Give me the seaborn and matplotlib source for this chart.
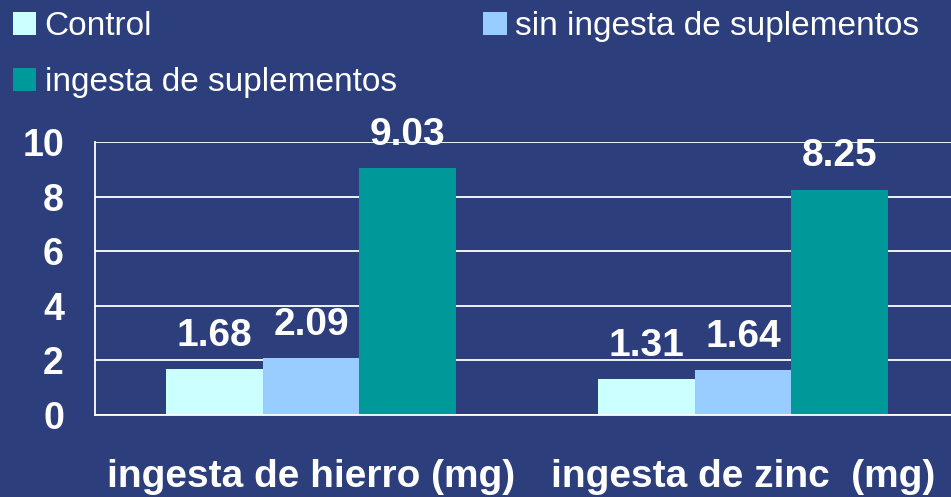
import numpy as np
import pandas as pd
import matplotlib.pyplot as plt
import seaborn as sns

# Datos
categorias = ["ingesta de hierro (mg)", "ingesta de zinc  (mg)"]
grupos = ["Control", "sin ingesta de suplementos", "ingesta de suplementos"]
control = [1.68, 1.31]
sin_suplementos = [2.09, 1.64]
con_suplementos = [9.03, 8.25]
colores = ["#CCFFFF", "#99CCFF", "#009999"]
yticks = [0, 2, 4, 6, 8, 10]

df = pd.DataFrame({
    "categoria": categorias * 3,
    "grupo": np.repeat(grupos, 2),
    "valor": control + sin_suplementos + con_suplementos,
})

fondo = "#2C3E7B"
sns.set_style("white")
plt.rcParams["font.family"] = ["Liberation Sans", "DejaVu Sans"]

fig = plt.figure(figsize=(9.51, 4.97), dpi=100, facecolor=fondo)
ax = fig.add_axes([95 / 951, 82 / 497, 864 / 951, 273 / 497])
ax.set_facecolor("none")

sns.barplot(
    data=df, x="categoria", y="valor", hue="grupo", hue_order=grupos,
    palette=colores, width=0.67, saturation=1, errorbar=None,
    linewidth=0, edgecolor="none", ax=ax
)

# Etiquetas de valores
for c in ax.containers:
    ax.bar_label(c, fmt="%.2f", padding=11, fontsize=28,
                 fontweight="bold", color="white")

# Ejes
ax.set_xlim(-0.5, 1.5)
ax.set_ylim(0, 10)
ax.set_yticks(yticks)
ax.set_xticks([-0.5, 0.5, 1.5])
ax.set_xticklabels([])
ax.set_xticks([0, 1], minor=True)
ax.set_xticklabels(categorias, minor=True, fontsize=28,
                   fontweight="bold", color="white")
ax.tick_params(axis="x", which="major", length=9.4, width=1.3,
               color="white", direction="out")
ax.tick_params(axis="x", which="minor", length=0, pad=32)
ax.tick_params(axis="y", length=9.4, width=1.3, color="white",
               direction="out", pad=13, labelsize=27, labelcolor="white")
for lab in ax.get_yticklabels():
    lab.set_fontweight("bold")
ax.set_xlabel("")
ax.set_ylabel("")

ax.yaxis.grid(True, color="white", linewidth=1.3)
ax.set_axisbelow(True)
sns.despine(ax=ax, top=True, right=True)
ax.spines["left"].set_color("white")
ax.spines["bottom"].set_color("white")
ax.spines["left"].set_linewidth(1.3)
ax.spines["bottom"].set_linewidth(1.3)

# Leyenda
handles, labels = ax.get_legend_handles_labels()
ax.get_legend().remove()
for h in handles:
    h.set_edgecolor("none")
    h.set_linewidth(0)
orden = [0, 2, 1]
fig.legend(
    [handles[i] for i in orden], [labels[i] for i in orden],
    loc="upper left", bbox_to_anchor=(13 / 951, 1 - 11 / 497),
    ncol=2, frameon=False, fontsize=24, labelcolor="white",
    handlelength=0.7, handleheight=0.7, handletextpad=0.25,
    columnspacing=2.6, borderpad=0, borderaxespad=0, labelspacing=0.75
)

fig.savefig("out.png", dpi=100, facecolor=fondo)
